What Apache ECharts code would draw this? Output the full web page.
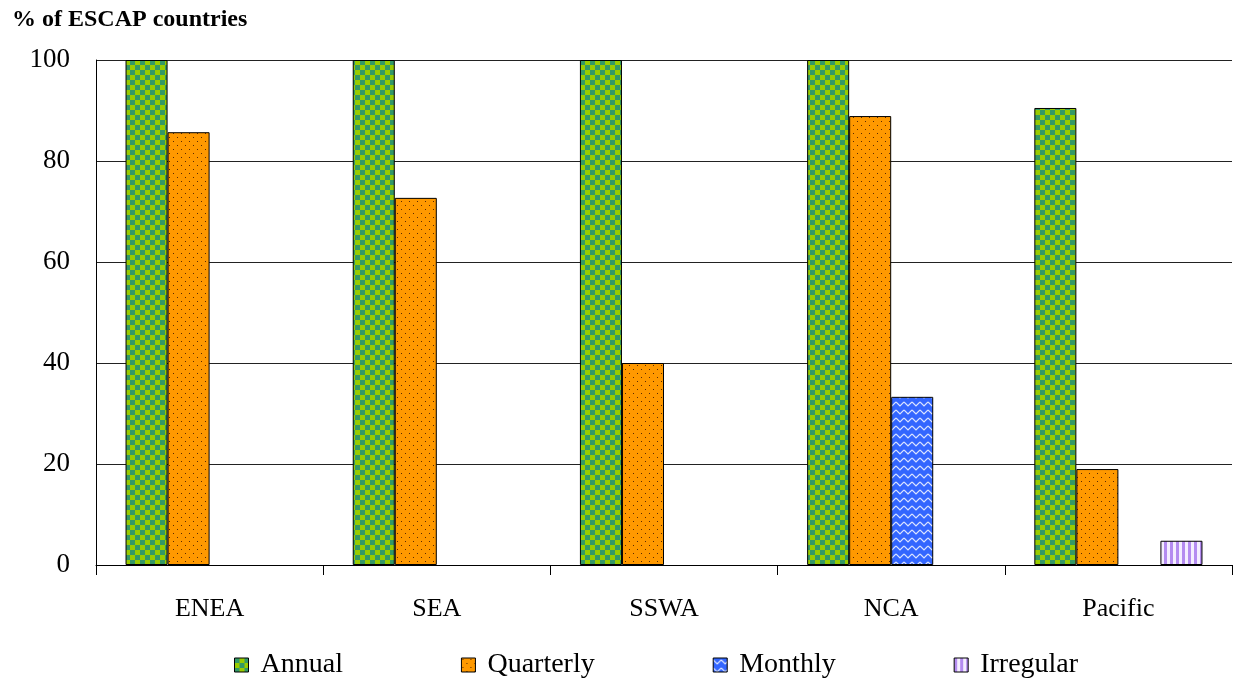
<!DOCTYPE html>
<html>
<head>
<meta charset="utf-8">
<script src="https://cdn.jsdelivr.net/npm/echarts@6/dist/echarts.min.js"></script>
<style>
html,body{margin:0;padding:0;background:#fff;}
#chart{width:1233px;height:684px;}
</style>
</head>
<body>
<div id="chart"></div>
<script>
const categories = ['ENEA', 'SEA', 'SSWA', 'NCA', 'Pacific'];
const annual = [100, 100, 100, 100, 90.5];
const quarterly = [85.7, 72.7, 40, 88.9, 19.0];
const monthly = [null, null, null, 33.3, null];
const irregular = [null, null, null, null, 4.8];
const yTicks = [0, 20, 40, 60, 80, 100];

function makeTile(w, h, draw) {
  const c = document.createElement('canvas');
  c.width = w; c.height = h;
  draw(c.getContext('2d'));
  return { image: c, repeat: 'repeat' };
}
const checker = makeTile(10, 10, g => {
  g.fillStyle = '#99CC00'; g.fillRect(0, 0, 10, 10);
  g.fillStyle = '#339966'; g.fillRect(0, 0, 5, 5); g.fillRect(5, 5, 5, 5);
});
const dots = makeTile(8, 8, g => {
  g.fillStyle = '#FF9900'; g.fillRect(0, 0, 8, 8);
  g.fillStyle = '#5a2a00'; g.fillRect(1, 1, 1, 1); g.fillRect(5, 5, 1, 1);
});
const zigzag = makeTile(8, 8, g => {
  g.fillStyle = '#3366FF'; g.fillRect(0, 0, 8, 8);
  g.strokeStyle = '#DDE6FF'; g.lineWidth = 1.2;
  g.beginPath(); g.moveTo(0, 2); g.lineTo(4, 6); g.lineTo(8, 2); g.stroke();
});
const stripes = makeTile(6, 6, g => {
  g.fillStyle = '#F4EEFF'; g.fillRect(0, 0, 6, 6);
  g.fillStyle = '#B48CF0'; g.fillRect(0, 0, 3, 6);
});

const font = 'Liberation Serif';
const chart = echarts.init(document.getElementById('chart'));
function barSeries(name, data, color) {
  return {
    name, type: 'bar', data,
    barGap: '0%', barCategoryGap: '26%',
    itemStyle: { color, borderColor: '#000', borderWidth: 1 }
  };
}
chart.setOption({
  animation: false,
  backgroundColor: '#fff',
  title: {
    text: '% of ESCAP countries', left: 7, top: 3,
    textStyle: { fontFamily: font, fontSize: 24, fontWeight: 'bold', color: '#000' }
  },
  grid: { left: 96, right: 1, top: 60, bottom: 119 },
  legend: {
    top: 651, left: 234, padding: 0,
    itemWidth: 14, itemHeight: 14, itemGap: 118,
    icon: 'rect',
    textStyle: { fontFamily: font, fontSize: 28, color: '#000', padding: [0, 0, 0, 7] },
    itemStyle: { borderColor: '#000', borderWidth: 1 }
  },
  xAxis: {
    type: 'category', data: categories,
    axisLine: { lineStyle: { color: '#000', width: 1 } },
    axisTick: { show: true, length: 10, lineStyle: { color: '#000' } },
    axisLabel: { fontFamily: font, fontSize: 26, color: '#000', margin: 31 }
  },
  yAxis: {
    type: 'value', min: yTicks[0], max: yTicks[yTicks.length - 1], interval: 20,
    axisLine: { show: true, lineStyle: { color: '#000', width: 1 } },
    axisTick: { show: false },
    splitLine: { lineStyle: { color: '#222', width: 1 } },
    axisLabel: { fontFamily: font, fontSize: 27, color: '#000', margin: 26 }
  },
  series: [
    barSeries('Annual', annual, checker),
    barSeries('Quarterly', quarterly, dots),
    barSeries('Monthly', monthly, zigzag),
    barSeries('Irregular', irregular, stripes)
  ]
});
</script>
</body>
</html>
